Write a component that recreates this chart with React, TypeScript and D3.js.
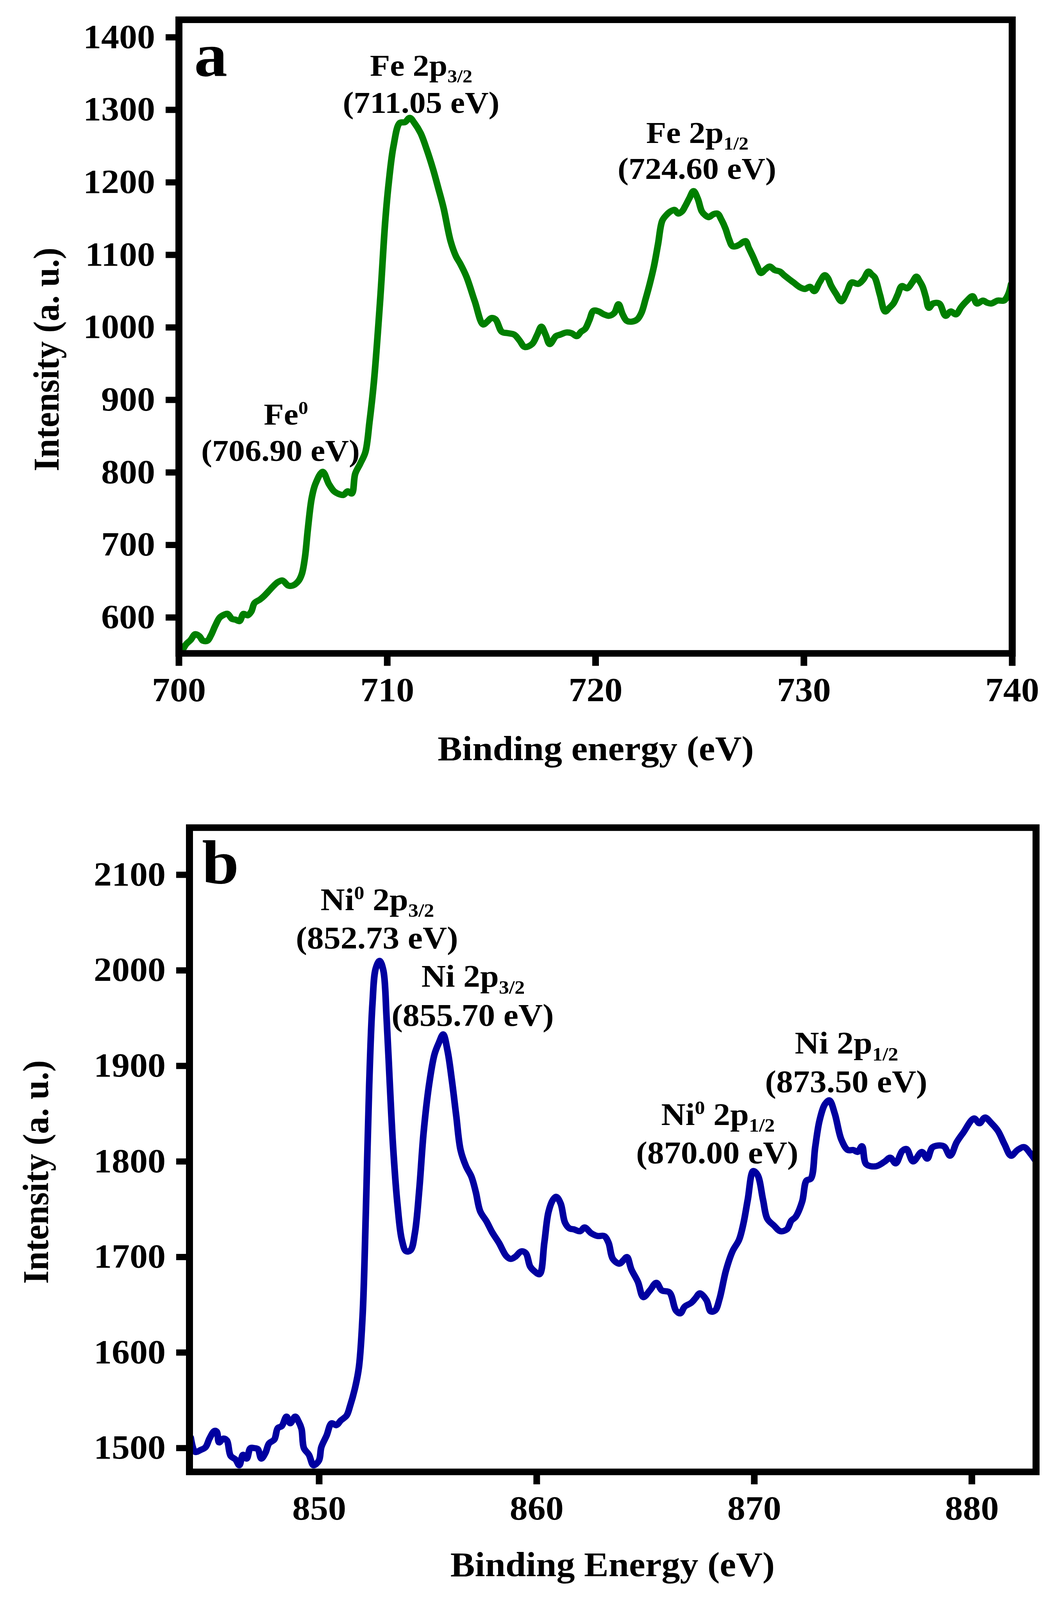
import React from 'react';
import * as d3 from 'd3';

// ---------- DATA ----------
const feEnergy = [
  700.0, 700.13, 700.34, 700.56, 700.78, 700.99, 701.15, 701.37, 701.53, 701.75, 701.96, 702.18, 702.34, 702.55,
  702.72, 702.91, 703.1, 703.3, 703.47, 703.63, 703.9, 704.1, 704.33, 704.49, 704.76, 704.97, 705.25, 705.46,
  705.73, 705.9, 706.05, 706.19, 706.37, 706.55, 706.9, 707.2, 707.45, 707.7, 707.9, 708.1, 708.3, 708.46,
  708.7, 708.95, 709.15, 709.36, 709.66, 709.9, 710.07, 710.3, 710.6, 710.85, 711.08, 711.3, 711.6, 711.9,
  712.2, 712.45, 712.7, 713.04, 713.3, 713.5, 713.8, 714.2, 714.6, 714.8, 715.0, 715.2, 715.5, 715.8, 716.1,
  716.35, 716.6, 716.95, 717.2, 717.4, 717.6, 717.8, 718.1, 718.3, 718.6, 718.85, 719.1, 719.3, 719.5, 719.7,
  719.9, 720.15, 720.4, 720.65, 720.9, 721.1, 721.3, 721.5, 721.75, 722.0, 722.2, 722.4, 722.6, 722.8, 723.0,
  723.2, 723.4, 723.6, 723.8, 723.96, 724.15, 724.3, 724.5, 724.7, 724.9, 725.1, 725.25, 725.43, 725.65,
  725.85, 726.05, 726.24, 726.4, 726.57, 726.75, 726.9, 727.2, 727.35, 727.55, 727.75, 727.94, 728.15, 728.36,
  728.6, 728.85, 729.05, 729.27, 729.5, 729.83, 730.05, 730.3, 730.5, 730.75, 731.0, 731.15, 731.3, 731.55,
  731.8, 732.05, 732.3, 732.6, 732.85, 733.1, 733.25, 733.4, 733.65, 733.9, 734.1, 734.3, 734.5, 734.7,
  734.96, 735.2, 735.4, 735.55, 735.7, 735.85, 736.0, 736.2, 736.5, 736.8, 737.05, 737.3, 737.55, 737.8,
  738.1, 738.3, 738.6, 738.8, 739.0, 739.3, 739.6, 739.8, 739.95,
];
const feIntensity = [
  553, 554, 563, 569, 577, 574, 568, 568, 575, 589, 600, 604, 605, 598,
  597, 595, 605, 603, 608, 620, 625, 630, 637, 642, 649, 651, 644, 644,
  650, 660, 683, 722, 764, 784, 801, 784, 774, 770, 769, 774, 771, 798,
  812, 828, 870, 925, 1038, 1145, 1199, 1250, 1282, 1283, 1289, 1282, 1268, 1245,
  1218, 1192, 1165, 1119, 1098, 1088, 1070, 1036, 1004, 1008, 1013, 1011, 994, 992, 990,
  982, 973, 977, 990, 1001, 990, 977, 988, 990, 993, 992, 988, 994, 998, 1010,
  1023, 1022, 1018, 1016, 1020, 1032, 1018, 1009, 1008, 1011, 1020, 1039, 1060, 1084, 1115,
  1147, 1155, 1160, 1162, 1157, 1160, 1167, 1178, 1188, 1178, 1160, 1155, 1152, 1156,
  1157, 1148, 1136, 1122, 1112, 1112, 1114, 1119, 1110, 1098, 1085, 1075, 1080, 1084,
  1079, 1077, 1072, 1067, 1062, 1055, 1053, 1056, 1050, 1062, 1072, 1068, 1058, 1046,
  1036, 1048, 1062, 1060, 1066, 1077, 1073, 1069, 1045, 1022, 1027, 1033, 1045, 1057,
  1054, 1062, 1070, 1064, 1056, 1042, 1027, 1033, 1033, 1016, 1022, 1018, 1028, 1036,
  1043, 1033, 1037, 1034, 1033, 1037, 1037, 1045, 1060,
];
const feXTicks = [700, 710, 720, 730, 740];
const feYTicks = [600, 700, 800, 900, 1000, 1100, 1200, 1300, 1400];

const niEnergy = [
  844.1, 844.3, 844.55, 844.78, 844.96, 845.19, 845.3, 845.4, 845.6, 845.76, 845.93, 846.16, 846.33, 846.5,
  846.67, 846.84, 847.02, 847.18, 847.34, 847.53, 847.7, 847.94, 848.1, 848.28, 848.5, 848.67, 848.9, 849.05,
  849.19, 849.3, 849.53, 849.74, 849.99, 850.1, 850.34, 850.57, 850.79, 851.0, 851.26, 851.42, 851.66, 851.83,
  852.0, 852.15, 852.3, 852.45, 852.6, 852.78, 852.95, 853.1, 853.25, 853.4, 853.6, 853.8, 854.0, 854.2,
  854.4, 854.6, 854.8, 855.05, 855.3, 855.5, 855.7, 855.9, 856.1, 856.3, 856.5, 856.75, 857.0, 857.2, 857.4,
  857.7, 857.95, 858.26, 858.6, 858.8, 859.0, 859.3, 859.5, 859.7, 859.9, 860.13, 860.35, 860.54, 860.75,
  860.9, 861.1, 861.3, 861.5, 861.7, 862.0, 862.2, 862.5, 862.8, 863.1, 863.3, 863.5, 863.8, 864.0, 864.15,
  864.35, 864.65, 864.9, 865.2, 865.5, 865.75, 866.1, 866.4, 866.6, 866.8, 867.1, 867.3, 867.5, 867.8, 868.0,
  868.2, 868.4, 868.7, 869.0, 869.3, 869.5, 869.7, 869.95, 870.15, 870.4, 870.6, 870.9, 871.2, 871.5, 871.7,
  871.9, 872.2, 872.4, 872.6, 872.8, 873.0, 873.25, 873.45, 873.7, 874.0, 874.3, 874.55, 874.75, 874.95,
  875.15, 875.6, 876.0, 876.25, 876.5, 876.8, 877.0, 877.3, 877.7, 877.95, 878.2, 878.7, 879.0, 879.3, 879.6,
  880.1, 880.35, 880.6, 880.9, 881.2, 881.5, 881.8, 882.1, 882.4, 882.7, 882.95,
];
const niIntensity = [
  1511, 1496, 1498, 1501, 1510, 1518, 1517, 1506, 1510, 1508, 1492, 1488, 1482, 1493,
  1489, 1500, 1500, 1499, 1489, 1495, 1505, 1509, 1521, 1523, 1533, 1526, 1533, 1528,
  1520, 1500, 1493, 1482, 1487, 1501, 1513, 1526, 1524, 1529, 1534, 1544, 1564, 1585,
  1640, 1750, 1880, 1965, 2002, 2010, 2000, 1950, 1880, 1815, 1755, 1718, 1706, 1707,
  1725, 1770, 1830, 1880, 1912, 1924, 1933, 1916, 1885, 1848, 1812, 1795, 1784, 1768, 1748,
  1737, 1726, 1715, 1701, 1698, 1700, 1706, 1704, 1690, 1685, 1682, 1715, 1747, 1760,
  1763, 1756, 1736, 1730, 1729, 1727, 1731, 1725, 1722, 1722, 1715, 1698, 1693, 1697, 1700,
  1687, 1674, 1658, 1665, 1673, 1665, 1663, 1644, 1641, 1648, 1652, 1657, 1662, 1655, 1643,
  1644, 1656, 1686, 1706, 1718, 1735, 1760, 1790, 1786, 1760, 1740, 1733, 1727, 1729, 1738,
  1742, 1758, 1780, 1782, 1815, 1843, 1860, 1864, 1850, 1823, 1812, 1812, 1810, 1816,
  1797, 1795, 1800, 1804, 1798, 1811, 1813, 1800, 1810, 1803, 1815, 1816, 1806, 1820, 1830,
  1845, 1840, 1846, 1840, 1832, 1818, 1806, 1812, 1815, 1808, 1800,
];
const niXTicks = [850, 860, 870, 880];
const niYTicks = [1500, 1600, 1700, 1800, 1900, 2000, 2100];

// ---------- STYLE / LAYOUT ----------
const FONT = '"Liberation Serif", "Times New Roman", Times, serif';
const W = 2721;
const H = 4371;

type Seg = { t: string; sup?: boolean; sub?: boolean };
type Ann = { segs: Seg[]; x: number; y: number; size: number };

type PanelProps = {
  id: string;
  left: number; right: number; top: number; bottom: number;
  xDomain: [number, number]; yDomain: [number, number];
  xs: number[]; ys: number[];
  xTicks: number[]; yTicks: number[];
  color: string;
  letter: string; letterX: number; letterY: number;
  xLabel: string; xLabelX: number; xLabelY: number;
  yLabelX: number; yLabelY: number;
  anns: Ann[];
};

function AnnText({ a }: { a: Ann }) {
  const subSize = Math.round(a.size * 0.6);
  const children: React.ReactNode[] = [];
  let shift = 0;
  a.segs.forEach((s, i) => {
    let target = 0;
    if (s.sup) target = -Math.round(a.size * 0.34);
    if (s.sub) target = Math.round(a.size * 0.22);
    const dy = target - shift;
    shift = target;
    children.push(
      <tspan key={i} dy={dy} fontSize={s.sup || s.sub ? subSize : a.size}>
        {s.t}
      </tspan>
    );
  });
  return (
    <text x={a.x} y={a.y} textAnchor="middle" fontFamily={FONT} fontWeight="bold" fill="#000">
      {children}
    </text>
  );
}

function Panel(p: PanelProps) {
  const x = d3.scaleLinear().domain(p.xDomain).range([p.left, p.right]);
  const y = d3.scaleLinear().domain(p.yDomain).range([p.bottom, p.top]);
  const pts = p.xs.map((v, i) => [v, p.ys[i]] as [number, number]);
  const line = d3
    .line<[number, number]>()
    .x((d) => x(d[0]))
    .y((d) => y(d[1]))
    .curve(d3.curveCatmullRom.alpha(0.5));
  const tickLen = 34;
  const tickW = 17;
  const frameW = 18;
  return (
    <g>
      <defs>
        <clipPath id={`clip-${p.id}`}>
          <rect x={p.left} y={p.top} width={p.right - p.left} height={p.bottom - p.top} />
        </clipPath>
      </defs>
      <path
        d={line(pts) || ''}
        fill="none"
        stroke={p.color}
        strokeWidth={17}
        strokeLinejoin="round"
        strokeLinecap="round"
        clipPath={`url(#clip-${p.id})`}
      />
      <rect
        x={p.left}
        y={p.top}
        width={p.right - p.left}
        height={p.bottom - p.top}
        fill="none"
        stroke="#000"
        strokeWidth={frameW}
      />
      {p.yTicks.map((t) => (
        <g key={`y${t}`}>
          <line x1={p.left} x2={p.left - tickLen} y1={y(t)} y2={y(t)} stroke="#000" strokeWidth={tickW} />
          <text
            x={p.left - 61}
            y={y(t) + 29}
            textAnchor="end"
            fontFamily={FONT}
            fontWeight="bold"
            fontSize={92}
            fill="#000"
          >
            {t}
          </text>
        </g>
      ))}
      {p.xTicks.map((t) => (
        <g key={`x${t}`}>
          <line x1={x(t)} x2={x(t)} y1={p.bottom} y2={p.bottom + tickLen} stroke="#000" strokeWidth={tickW} />
          <text
            x={x(t)}
            y={p.bottom + 130}
            textAnchor="middle"
            fontFamily={FONT}
            fontWeight="bold"
            fontSize={92}
            fill="#000"
          >
            {t}
          </text>
        </g>
      ))}
      <text x={p.letterX} y={p.letterY} fontFamily={FONT} fontWeight="bold" fontSize={170} fill="#000">
        {p.letter}
      </text>
      <text
        x={p.xLabelX}
        y={p.xLabelY}
        textAnchor="middle"
        fontFamily={FONT}
        fontWeight="bold"
        fontSize={94}
        fill="#000"
      >
        {p.xLabel}
      </text>
      <text
        transform={`translate(${p.yLabelX},${p.yLabelY}) rotate(-90)`}
        textAnchor="middle"
        fontFamily={FONT}
        fontWeight="bold"
        fontSize={94}
        fill="#000"
      >
        Intensity (a. u.)
      </text>
      {p.anns.map((a, i) => (
        <AnnText key={i} a={a} />
      ))}
    </g>
  );
}

export default function App() {
  const annA: Ann[] = [
    { segs: [{ t: 'Fe 2p' }, { t: '3/2', sub: true }], x: 1078, y: 207, size: 84 },
    { segs: [{ t: '(711.05 eV)' }], x: 1078, y: 308, size: 84 },
    { segs: [{ t: 'Fe 2p' }, { t: '1/2', sub: true }], x: 1785, y: 391, size: 84 },
    { segs: [{ t: '(724.60 eV)' }], x: 1784, y: 489, size: 84 },
    { segs: [{ t: 'Fe' }, { t: '0', sup: true }], x: 732, y: 1160, size: 84 },
    { segs: [{ t: '(706.90 eV)' }], x: 718, y: 1259, size: 84 },
  ];
  const annB: Ann[] = [
    { segs: [{ t: 'Ni' }, { t: '0', sup: true }, { t: ' 2p' }, { t: '3/2', sub: true }], x: 966, y: 2486, size: 86 },
    { segs: [{ t: '(852.73 eV)' }], x: 965, y: 2591, size: 86 },
    { segs: [{ t: 'Ni 2p' }, { t: '3/2', sub: true }], x: 1211, y: 2696, size: 86 },
    { segs: [{ t: '(855.70 eV)' }], x: 1210, y: 2802, size: 86 },
    { segs: [{ t: 'Ni' }, { t: '0', sup: true }, { t: ' 2p' }, { t: '1/2', sub: true }], x: 1838, y: 3073, size: 86 },
    { segs: [{ t: '(870.00 eV)' }], x: 1836, y: 3178, size: 86 },
    { segs: [{ t: 'Ni 2p' }, { t: '1/2', sub: true }], x: 2167, y: 2878, size: 86 },
    { segs: [{ t: '(873.50 eV)' }], x: 2166, y: 2984, size: 86 },
  ];
  return (
    <svg
      viewBox={`0 0 ${W} ${H}`}
      preserveAspectRatio="none"
      style={{
        position: 'absolute',
        left: 0,
        top: 0,
        width: '100vw',
        height: '100vh',
        display: 'block',
        background: '#fff',
      }}
    >
      <rect x={0} y={0} width={W} height={H} fill="#fff" />
      <Panel
        id="a"
        left={458}
        right={2591}
        top={54}
        bottom={1785}
        xDomain={[700, 740]}
        yDomain={[550.5, 1424.2]}
        xs={feEnergy}
        ys={feIntensity}
        xTicks={feXTicks}
        yTicks={feYTicks}
        color="#007f00"
        letter="a"
        letterX={497}
        letterY={207}
        xLabel="Binding energy (eV)"
        xLabelX={1525}
        xLabelY={2077}
        yLabelX={150}
        yLabelY={982}
        anns={annA}
      />
      <Panel
        id="b"
        left={485}
        right={2652}
        top={2261}
        bottom={4021}
        xDomain={[844.04, 882.95]}
        yDomain={[1475.1, 2149.4]}
        xs={niEnergy}
        ys={niIntensity}
        xTicks={niXTicks}
        yTicks={niYTicks}
        color="#0000a0"
        letter="b"
        letterX={517}
        letterY={2413}
        xLabel="Binding Energy (eV)"
        xLabelX={1568}
        xLabelY={4306}
        yLabelX={123}
        yLabelY={3202}
        anns={annB}
      />
    </svg>
  );
}
